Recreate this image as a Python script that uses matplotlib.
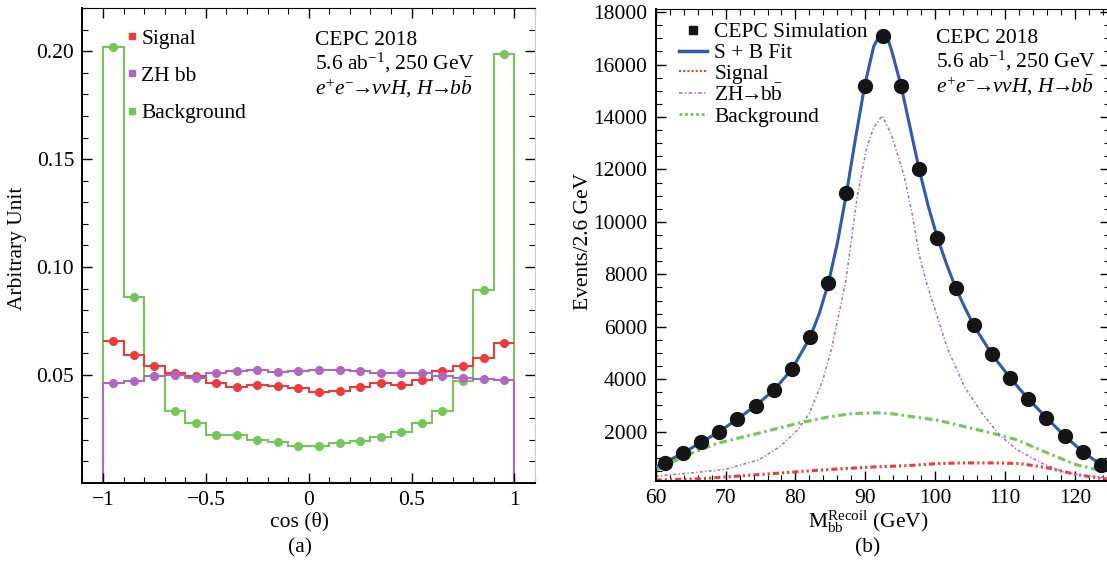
import numpy as np
import matplotlib
matplotlib.use("Agg")
import matplotlib.pyplot as plt
from matplotlib.lines import Line2D
from matplotlib.ticker import MultipleLocator

plt.rcParams["font.family"] = ["Liberation Serif", "DejaVu Serif"]
plt.rcParams["mathtext.fontset"] = "custom"
plt.rcParams["mathtext.rm"] = "Liberation Serif"
plt.rcParams["mathtext.it"] = "Liberation Serif:italic"
plt.rcParams["mathtext.bf"] = "Liberation Serif:bold"

# -----------------------------
# (a) cos(theta) distributions, 20 bins in [-1, 1]
# -----------------------------
cos_edges = np.linspace(-1, 1, 21)
signal_cos = [0.0659, 0.0594, 0.0540, 0.0511, 0.0497, 0.0461, 0.0443, 0.0454, 0.0449, 0.0438,
              0.0420, 0.0426, 0.0443, 0.0461, 0.0455, 0.0477, 0.0520, 0.0543, 0.0579, 0.0650]
zhbb_cos = [0.0463, 0.0474, 0.0494, 0.0500, 0.0485, 0.0508, 0.0517, 0.0525, 0.0515, 0.0519,
            0.0523, 0.0522, 0.0517, 0.0508, 0.0508, 0.0508, 0.0495, 0.0486, 0.0480, 0.0475]
bkg_cos = [0.2020, 0.0860, 0.0497, 0.0332, 0.0276, 0.0222, 0.0222, 0.0199, 0.0188, 0.0173,
           0.0170, 0.0185, 0.0196, 0.0211, 0.0238, 0.0279, 0.0335, 0.0471, 0.0894, 0.1985]
bkg_cos_err = [0.0015, 0.0008, 0.0004, 0.0003, 0.0003, 0.0003, 0.0003, 0.0003, 0.0003, 0.0003,
               0.0003, 0.0003, 0.0003, 0.0003, 0.0003, 0.0003, 0.0003, 0.0004, 0.0012, 0.0015]

# -----------------------------
# (b) recoil mass fit
# -----------------------------
mass_bins = [61.3, 63.9, 66.5, 69.1, 71.7, 74.3, 76.9, 79.5, 82.1, 84.7, 87.3, 89.9, 92.5,
             95.1, 97.7, 100.3, 102.9, 105.5, 108.1, 110.7, 113.3, 115.9, 118.5, 121.1, 123.7]
mass_events = [800, 1180, 1585, 2000, 2500, 2980, 3570, 4380, 5610, 7650, 11100, 15200, 17100,
               15200, 12000, 9380, 7480, 6050, 4960, 4060, 3260, 2530, 1840, 1230, 740]

fit_x = [60, 61.3, 63.9, 66.5, 69.1, 71.7, 74.3, 76.9, 79.5, 82.1, 83.4, 84.7, 86.0, 87.3, 88.6,
         89.9, 91.2, 92.0, 92.6, 93.2, 93.8, 95.1, 96.4, 97.7, 99.0, 100.3, 101.6, 102.9, 104.2,
         105.5, 108.1, 110.7, 113.3, 115.9, 118.5, 121.1, 123.7, 125]
fit_y = [650, 820, 1180, 1590, 2000, 2480, 2990, 3580, 4380, 5600, 6500, 7650, 9200, 11100, 13200,
         15200, 16700, 17100, 17150, 17000, 16500, 15200, 13600, 12000, 10600, 9400, 8400, 7500, 6750,
         6050, 4950, 4050, 3250, 2530, 1840, 1230, 740, 560]

zh_x = [60, 65, 70, 74.8, 77.8, 80.3, 82.0, 83.9, 85.2, 87.2, 88.8, 90.2, 91.2, 92.4, 93.7,
        95.5, 96.7, 97.7, 98.7, 101.7, 104.2, 106.7, 109.2, 111.7, 115.2, 118.7, 125]
zh_y = [300, 420, 560, 930, 1430, 2060, 2700, 3950, 5200, 7740, 10900, 12850, 13600, 14050, 13350,
        11800, 10300, 8750, 7720, 5200, 3700, 2700, 1870, 1310, 800, 430, 220]

bkg_x = [60, 64, 68.9, 74.3, 80.3, 84.8, 88.3, 92.2, 94.2, 100.2, 103.2, 108.2, 111.7, 116.1, 120.1, 124.1, 125]
bkg_y = [516, 1057, 1560, 1912, 2314, 2566, 2692, 2717, 2667, 2440, 2252, 1937, 1686, 1182, 742, 490, 450]

sig_x = [60, 66.4, 70.3, 76.3, 81.3, 86.3, 91.3, 96.2, 100.2, 103.7, 108.7, 112.2, 116.1, 120.1, 124.1, 125]
sig_y = [150, 201, 277, 390, 490, 578, 654, 704, 780, 805, 805, 780, 616, 365, 201, 180]

c_sig = "#f03a3a"
c_zh = "#b266c4"
c_bkg = "#74c658"

fig = plt.figure(figsize=(11.07, 5.63), dpi=100)
ax1 = fig.add_axes([0.0745, 0.1421, 0.4088, 0.8437])
ax2 = fig.add_axes([0.5923, 0.1456, 0.4104, 0.8384])

FS = 15.5
proc = ("CEPC 2018\n5.6 ab$^{-1}$, 250 GeV\n"
        r"$e^{+}e^{-}\!\!\rightarrow\!\!\nu\nu H,\,H\!\!\rightarrow\!\!b\bar{b}$")

# -----------------------------
# left panel
# -----------------------------
centers = 0.5 * (cos_edges[:-1] + cos_edges[1:])
ax1.stairs(bkg_cos, cos_edges, color=c_bkg, lw=1.5, baseline=0)
ax1.stairs(signal_cos, cos_edges, color=c_sig, lw=1.5, baseline=None)
ax1.stairs(zhbb_cos, cos_edges, color=c_zh, lw=1.5, baseline=0)
ax1.errorbar(centers, bkg_cos, yerr=bkg_cos_err, fmt="none", ecolor="k", elinewidth=0.8, zorder=3)
ax1.plot(centers, bkg_cos, "o", color=c_bkg, ms=5.5, zorder=4)
ax1.plot(centers, signal_cos, "o", color=c_sig, ms=5.5, zorder=4)
ax1.plot(centers, zhbb_cos, "o", color=c_zh, ms=5.5, zorder=4)

ax1.set_xlim(-1.1, 1.1)
ax1.set_ylim(0, 0.22)
ax1.set_xticks([-1, -0.5, 0, 0.5, 1])
ax1.set_xticklabels(["\u22121", "\u22120.5", "0", "0.5", "1"])
ax1.set_yticks([0.05, 0.10, 0.15, 0.20])
ax1.set_yticklabels(["0.05", "0.10", "0.15", "0.20"])
ax1.xaxis.set_minor_locator(MultipleLocator(0.1))
ax1.yaxis.set_minor_locator(MultipleLocator(0.01))

handles1 = [Line2D([], [], ls="none", marker="s", ms=5, color=c) for c in (c_sig, c_zh, c_bkg)]
ax1.legend(handles1, ["Signal", "ZH bb", "Background"], loc="upper left",
           bbox_to_anchor=(0.08, 0.975), frameon=False, fontsize=FS,
           handlelength=0.4, handletextpad=0.25, labelspacing=0.8, borderaxespad=0)
ax1.text(0.514, 0.952, proc, transform=ax1.transAxes, ha="left", va="top",
         fontsize=FS, linespacing=1.05)

ax1.set_ylabel("Arbitrary Unit", fontsize=FS)
ax1.set_xlabel("cos (\u03b8)", fontsize=FS)
ax1.yaxis.label.set_va("center")
ax1.yaxis.set_label_coords(-0.1425, 0.495)
ax1.xaxis.set_label_coords(0.48, -0.082)
ax1.xaxis.label.set_va("center")
ax1.text(0.48, -0.137, "(a)", transform=ax1.transAxes, ha="center", va="center", fontsize=FS)

# -----------------------------
# right panel
# -----------------------------
ax2.plot(bkg_x, bkg_y, color=c_bkg, lw=2.2, ls=(0, (2.5, 1.2, 0.8, 1.2)))
ax2.plot(sig_x, sig_y, color=c_sig, lw=2.2, ls=(0, (2, 1, 0.7, 1, 0.7, 1)))
ax2.plot(zh_x, zh_y, color=c_zh, lw=1.1, ls=(0, (2, 1.5, 0.8, 1.5)))
ax2.plot(fit_x, fit_y, color="#2f5aae", lw=2.2, zorder=3)
ax2.plot(mass_bins, mass_events, "o", color="#151515", ms=10, zorder=4)

ax2.set_xlim(60, 125)
ax2.set_ylim(115, 18120)
ax2.set_xticks([60, 70, 80, 90, 100, 110, 120])
ax2.set_yticks(range(2000, 18001, 2000))
ax2.xaxis.set_minor_locator(MultipleLocator(2))
ax2.yaxis.set_minor_locator(MultipleLocator(500))

handles2 = [Line2D([], [], ls="none", marker="s", ms=6, color="#151515"),
            Line2D([], [], color="#2f5aae", lw=2.5),
            Line2D([], [], color=c_sig, lw=1.5, ls=(0, (1, 1))),
            Line2D([], [], color=c_zh, lw=1.2, ls=(0, (2, 1.5, 0.8, 1.5))),
            Line2D([], [], color=c_bkg, lw=2, ls=(0, (1, 1)))]
ax2.legend(handles2, ["CEPC Simulation", "S + B Fit", "Signal",
                      r"ZH$\!\!\rightarrow\!\!$b$\bar{\rm b}$", "Background"],
           loc="upper left", bbox_to_anchor=(0.032, 0.99), frameon=False, fontsize=FS,
           handlelength=1.3, handletextpad=0.35, labelspacing=0.03, borderaxespad=0)
ax2.text(0.616, 0.958, proc, transform=ax2.transAxes, ha="left", va="top",
         fontsize=FS, linespacing=1.05)

ax2.set_ylabel("Events/2.6 GeV", fontsize=FS)
ax2.set_xlabel(r"M$_{\rm bb}^{\rm Recoil}$ (GeV)", fontsize=FS)
ax2.yaxis.label.set_va("center")
ax2.yaxis.set_label_coords(-0.159, 0.507)
ax2.xaxis.set_label_coords(0.467, -0.087)
ax2.xaxis.label.set_va("center")
ax2.text(0.467, -0.142, "(b)", transform=ax2.transAxes, ha="center", va="center", fontsize=FS)

for ax in (ax1, ax2):
    ax.tick_params(which="both", direction="in", top=True, right=True, labelsize=FS, pad=6)
    ax.tick_params(which="major", length=7, width=1)
    ax.tick_params(which="minor", length=4, width=0.8)
    ax.spines["left"].set_linewidth(1.4)
    ax.spines["bottom"].set_linewidth(1.4)
    ax.spines["top"].set_linewidth(0.8)
    ax.spines["right"].set_linewidth(0.8)
ax1.spines["right"].set_color("#cccccc")

fig.savefig("out.png", dpi=100)
